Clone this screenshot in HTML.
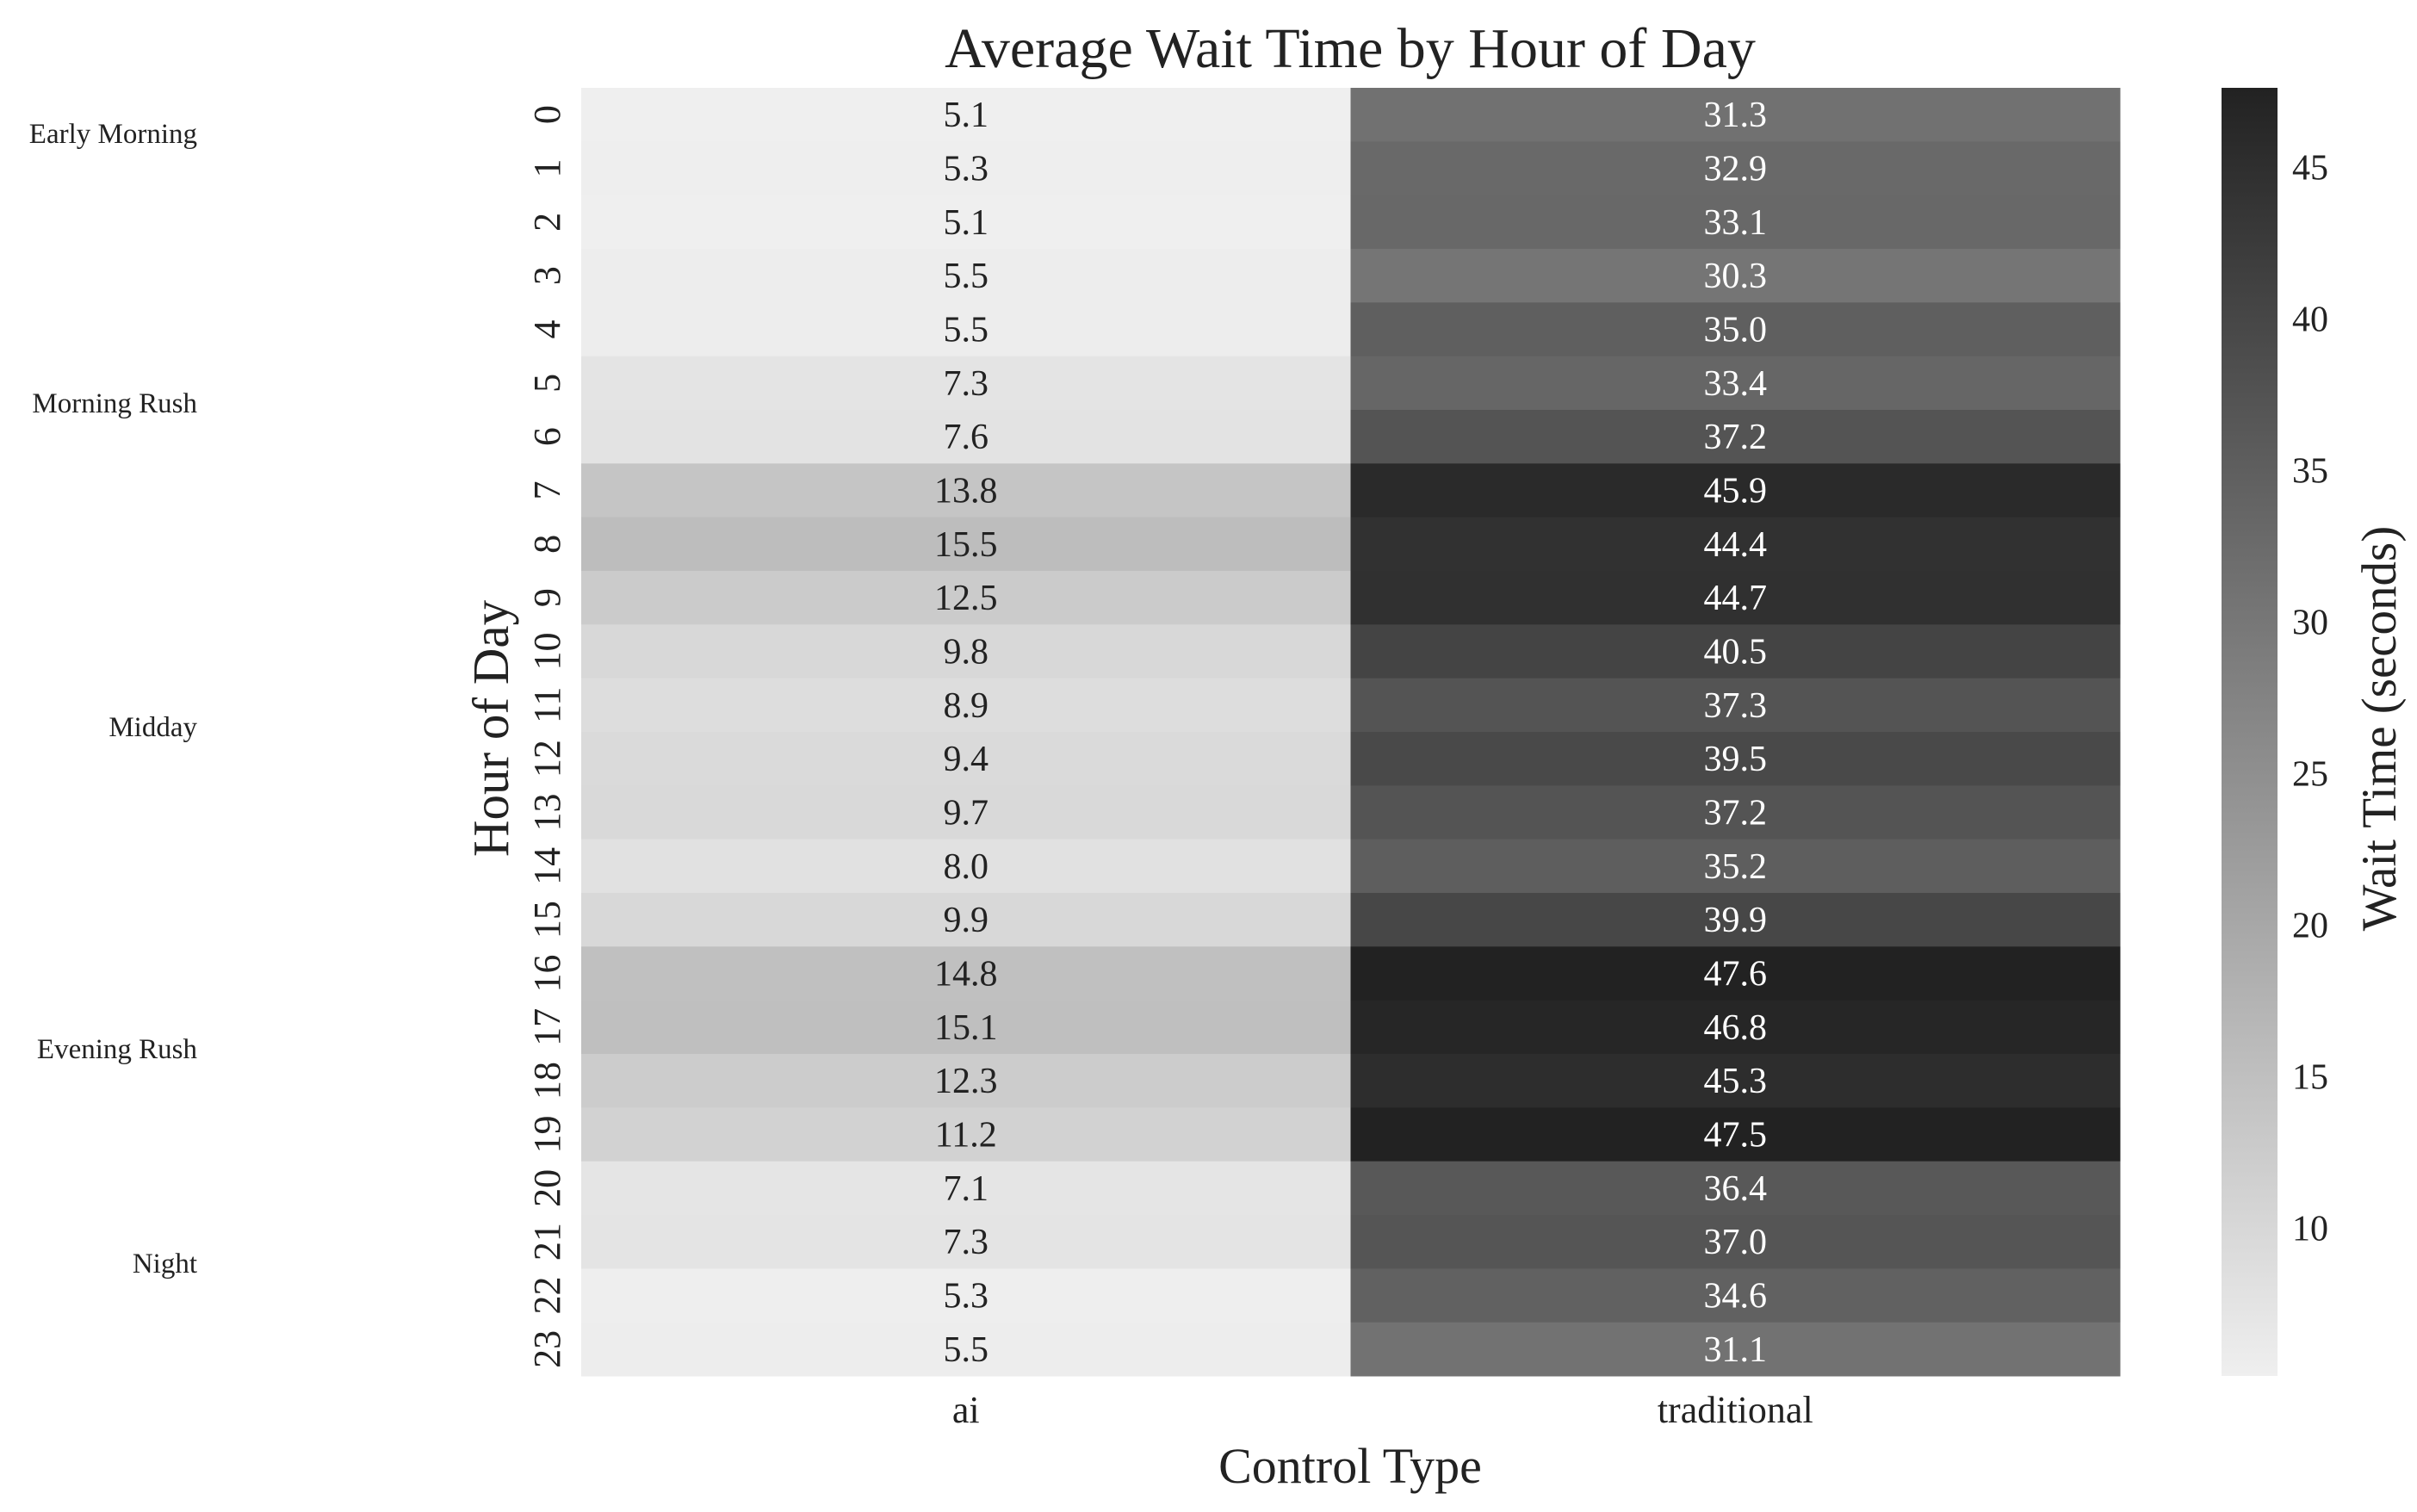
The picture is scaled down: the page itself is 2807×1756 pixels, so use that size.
<!DOCTYPE html>
<html><head><meta charset="utf-8"><style>
html,body{margin:0;padding:0;background:#fff;}
svg{display:block;font-family:"Liberation Serif",serif;}
</style></head><body>
<svg id="chart" width="2807" height="1756" xmlns="http://www.w3.org/2000/svg">
<defs><linearGradient id="cbgrad" x1="0" y1="1" x2="0" y2="0"><stop offset="0" stop-color="#efefef"/><stop offset="1" stop-color="#222222"/></linearGradient></defs>
<text x="1568" y="78" font-size="66" text-anchor="middle" fill="#222">Average Wait Time by Hour of Day</text>
<g id="cells"></g>
<g id="yticks"></g>
<g id="xticks"></g>
<g id="groups"></g>
<g id="cbar"></g>
<text transform="translate(590,846) rotate(-90)" font-size="59" text-anchor="middle" fill="#222">Hour of Day</text>
<text x="1568" y="1722" font-size="58" text-anchor="middle" fill="#222">Control Type</text>
<text transform="translate(2782,846) rotate(-90)" font-size="57" text-anchor="middle" fill="#222">Wait Time (seconds)</text>
</svg>
<script>
const hours = ["0","1","2","3","4","5","6","7","8","9","10","11","12","13","14","15","16","17","18","19","20","21","22","23"];
const controlTypes = ["ai","traditional"];
const aiValues = [5.1,5.3,5.1,5.5,5.5,7.3,7.6,13.8,15.5,12.5,9.8,8.9,9.4,9.7,8.0,9.9,14.8,15.1,12.3,11.2,7.1,7.3,5.3,5.5];
const traditionalValues = [31.3,32.9,33.1,30.3,35.0,33.4,37.2,45.9,44.4,44.7,40.5,37.3,39.5,37.2,35.2,39.9,47.6,46.8,45.3,47.5,36.4,37.0,34.6,31.1];
const colorbarTicks = [10,15,20,25,30,35,40,45];
const periodNames = ["Early Morning","Morning Rush","Midday","Evening Rush","Night"];
const periodHours = [0.85,5.87,11.9,17.9,21.9];

const NS="http://www.w3.org/2000/svg";
const L=675,R=2462,T=102,B=1598;
const series=[aiValues,traditionalValues];
const all=aiValues.concat(traditionalValues);
const vmin=Math.min(...all),vmax=Math.max(...all);
const rowH=(B-T)/hours.length, colW=(R-L)/controlTypes.length;
function yScale(i){return T+i*rowH;}
function xScale(j){return L+j*colW;}
function shade(v){const f=(v-vmin)/(vmax-vmin);const g=Math.round(239-f*205);return "rgb("+g+","+g+","+g+")";}
function mk(tag,attrs,parent,text){const e=document.createElementNS(NS,tag);for(const k in attrs)e.setAttribute(k,attrs[k]);if(text!==undefined)e.textContent=text;parent.appendChild(e);return e;}
const cells=document.getElementById('cells');
series.forEach((vals,j)=>{vals.forEach((v,i)=>{
  const r=mk('rect',{x:xScale(j),y:yScale(i),width:colW+0.5,height:rowH+0.5,fill:shade(v)},cells);
  
  
  const f=(v-vmin)/(vmax-vmin);
  const t=mk('text',{x:xScale(j)+colW/2,y:yScale(i)+rowH/2+14,'font-size':42,'text-anchor':'middle',fill:f>0.5?'#fff':'#222'},cells,v.toFixed(1));
  
  
});});
const yt=document.getElementById('yticks');
hours.forEach((h,i)=>{const cy=yScale(i)+rowH/2;
  const t=mk('text',{transform:'translate(650,'+cy+') rotate(-90)','font-size':44,'text-anchor':'middle',fill:'#222'},yt,h);
  
  
});
const xt=document.getElementById('xticks');
controlTypes.forEach((c,j)=>{const cx=xScale(j)+colW/2;
  const t=mk('text',{x:cx,y:1652,'font-size':44,'text-anchor':'middle',fill:'#222'},xt,c);
  
  
});
const gp=document.getElementById('groups');
periodNames.forEach((n,k)=>{const cy=yScale(periodHours[k])+11;
  const t=mk('text',{x:229,y:cy,'font-size':33,'text-anchor':'end',fill:'#222'},gp,n);
  
  
});
const cb=document.getElementById('cbar');
const CL=2580,CR=2645,CT=T,CB=B;
function cbY(v){return CB-(v-vmin)/(vmax-vmin)*(CB-CT);}
const cr=mk('rect',{x:CL,y:CT,width:CR-CL,height:CB-CT,fill:'url(#cbgrad)'},cb);


colorbarTicks.forEach(v=>{const y=cbY(v);
  const t=mk('text',{x:2662,y:y+15,'font-size':42,fill:'#222'},cb,String(v));
  
  
});
</script>
</body></html>
